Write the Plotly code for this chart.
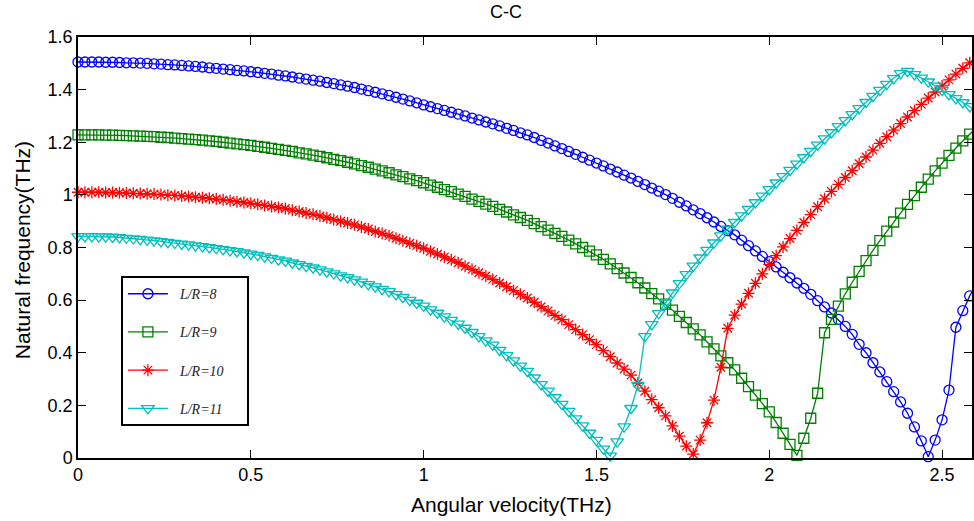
import plotly.graph_objects as go

# Angular velocity samples (THz)
omega = [
    0.00, 0.02, 0.04, 0.06, 0.08, 0.10, 0.12, 0.14, 0.16, 0.18,
    0.20, 0.22, 0.24, 0.26, 0.28, 0.30, 0.32, 0.34, 0.36, 0.38,
    0.40, 0.42, 0.44, 0.46, 0.48, 0.50, 0.52, 0.54, 0.56, 0.58,
    0.60, 0.62, 0.64, 0.66, 0.68, 0.70, 0.72, 0.74, 0.76, 0.78,
    0.80, 0.82, 0.84, 0.86, 0.88, 0.90, 0.92, 0.94, 0.96, 0.98,
    1.00, 1.02, 1.04, 1.06, 1.08, 1.10, 1.12, 1.14, 1.16, 1.18,
    1.20, 1.22, 1.24, 1.26, 1.28, 1.30, 1.32, 1.34, 1.36, 1.38,
    1.40, 1.42, 1.44, 1.46, 1.48, 1.50, 1.52, 1.54, 1.56, 1.58,
    1.60, 1.62, 1.64, 1.66, 1.68, 1.70, 1.72, 1.74, 1.76, 1.78,
    1.80, 1.82, 1.84, 1.86, 1.88, 1.90, 1.92, 1.94, 1.96, 1.98,
    2.00, 2.02, 2.04, 2.06, 2.08, 2.10, 2.12, 2.14, 2.16, 2.18,
    2.20, 2.22, 2.24, 2.26, 2.28, 2.30, 2.32, 2.34, 2.36, 2.38,
    2.40, 2.42, 2.44, 2.46, 2.48, 2.50, 2.52, 2.54, 2.56, 2.58,
    2.60,
]

# Natural frequency (THz) for each L/R
freq_lr8 = [
    1.505, 1.505, 1.505, 1.505, 1.504, 1.504, 1.503, 1.502, 1.502, 1.501,
    1.500, 1.498, 1.497, 1.495, 1.494, 1.492, 1.490, 1.488, 1.486, 1.483,
    1.481, 1.478, 1.476, 1.473, 1.471, 1.468, 1.465, 1.462, 1.459, 1.455,
    1.452, 1.448, 1.444, 1.440, 1.436, 1.432, 1.427, 1.423, 1.418, 1.413,
    1.408, 1.402, 1.396, 1.390, 1.384, 1.378, 1.371, 1.364, 1.357, 1.350,
    1.342, 1.335, 1.328, 1.321, 1.314, 1.307, 1.300, 1.292, 1.285, 1.277,
    1.270, 1.262, 1.253, 1.245, 1.236, 1.228, 1.218, 1.207, 1.197, 1.186,
    1.176, 1.165, 1.154, 1.143, 1.132, 1.121, 1.110, 1.098, 1.087, 1.075,
    1.064, 1.051, 1.039, 1.026, 1.014, 1.001, 0.987, 0.972, 0.958, 0.943,
    0.929, 0.913, 0.897, 0.880, 0.864, 0.848, 0.828, 0.807, 0.787, 0.766,
    0.746, 0.726, 0.706, 0.685, 0.665, 0.645, 0.622, 0.598, 0.574, 0.551,
    0.527, 0.500, 0.470, 0.432, 0.400, 0.362, 0.327, 0.290, 0.252, 0.213,
    0.170, 0.118, 0.065, 0.005, 0.068, 0.145, 0.258, 0.497, 0.560, 0.616,
    0.660,
]

freq_lr9 = [
    1.228, 1.228, 1.228, 1.228, 1.227, 1.227, 1.226, 1.225, 1.224, 1.223,
    1.222, 1.221, 1.219, 1.218, 1.216, 1.214, 1.212, 1.210, 1.208, 1.205,
    1.203, 1.200, 1.197, 1.194, 1.191, 1.188, 1.184, 1.181, 1.177, 1.173,
    1.169, 1.165, 1.160, 1.156, 1.151, 1.146, 1.141, 1.135, 1.130, 1.124,
    1.118, 1.111, 1.105, 1.098, 1.091, 1.084, 1.076, 1.069, 1.061, 1.054,
    1.046, 1.037, 1.029, 1.020, 1.012, 1.003, 0.994, 0.984, 0.975, 0.965,
    0.956, 0.945, 0.935, 0.924, 0.914, 0.903, 0.891, 0.879, 0.866, 0.854,
    0.842, 0.828, 0.814, 0.800, 0.786, 0.772, 0.755, 0.738, 0.720, 0.703,
    0.686, 0.666, 0.646, 0.625, 0.605, 0.585, 0.562, 0.538, 0.515, 0.491,
    0.468, 0.441, 0.415, 0.388, 0.362, 0.335, 0.303, 0.271, 0.239, 0.207,
    0.175, 0.135, 0.094, 0.052, 0.010, 0.075, 0.151, 0.246, 0.476, 0.527,
    0.577, 0.624, 0.668, 0.709, 0.750, 0.789, 0.826, 0.862, 0.897, 0.931,
    0.964, 0.997, 1.029, 1.060, 1.091, 1.121, 1.150, 1.178, 1.205, 1.231,
    1.256,
]

freq_lr10 = [
    1.010, 1.010, 1.010, 1.010, 1.009, 1.009, 1.008, 1.007, 1.006, 1.005,
    1.004, 1.003, 1.001, 0.999, 0.998, 0.996, 0.994, 0.991, 0.989, 0.987,
    0.984, 0.981, 0.978, 0.974, 0.971, 0.968, 0.964, 0.960, 0.956, 0.952,
    0.948, 0.942, 0.937, 0.931, 0.926, 0.920, 0.913, 0.906, 0.900, 0.893,
    0.886, 0.878, 0.870, 0.861, 0.853, 0.845, 0.835, 0.826, 0.816, 0.807,
    0.797, 0.786, 0.775, 0.764, 0.753, 0.742, 0.729, 0.717, 0.704, 0.692,
    0.679, 0.665, 0.651, 0.636, 0.622, 0.608, 0.592, 0.575, 0.559, 0.542,
    0.526, 0.507, 0.488, 0.469, 0.450, 0.431, 0.408, 0.385, 0.361, 0.338,
    0.315, 0.285, 0.254, 0.222, 0.191, 0.160, 0.122, 0.083, 0.045, 0.015,
    0.068, 0.134, 0.220, 0.345, 0.493, 0.543, 0.585, 0.626, 0.664, 0.700,
    0.735, 0.769, 0.802, 0.834, 0.865, 0.895, 0.925, 0.955, 0.985, 1.013,
    1.040, 1.066, 1.092, 1.118, 1.144, 1.170, 1.196, 1.221, 1.246, 1.271,
    1.296, 1.320, 1.344, 1.368, 1.391, 1.414, 1.437, 1.459, 1.481, 1.502,
    1.523,
]

freq_lr11 = [
    0.842, 0.842, 0.842, 0.841, 0.841, 0.840, 0.838, 0.836, 0.834, 0.832,
    0.829, 0.826, 0.823, 0.820, 0.817, 0.814, 0.811, 0.807, 0.804, 0.800,
    0.797, 0.793, 0.789, 0.785, 0.780, 0.776, 0.771, 0.765, 0.760, 0.754,
    0.749, 0.742, 0.736, 0.729, 0.723, 0.716, 0.708, 0.701, 0.693, 0.686,
    0.678, 0.669, 0.660, 0.651, 0.642, 0.633, 0.622, 0.611, 0.600, 0.589,
    0.578, 0.564, 0.551, 0.537, 0.524, 0.510, 0.494, 0.478, 0.462, 0.446,
    0.430, 0.410, 0.390, 0.370, 0.350, 0.330, 0.305, 0.280, 0.255, 0.230,
    0.205, 0.178, 0.150, 0.123, 0.095, 0.068, 0.035, 0.008, 0.062, 0.119,
    0.189, 0.277, 0.462, 0.508, 0.550, 0.590, 0.628, 0.664, 0.698, 0.730,
    0.761, 0.790, 0.818, 0.845, 0.871, 0.896, 0.921, 0.946, 0.971, 0.996,
    1.021, 1.046, 1.070, 1.094, 1.118, 1.142, 1.166, 1.190, 1.214, 1.237,
    1.260, 1.283, 1.306, 1.329, 1.352, 1.375, 1.398, 1.421, 1.443, 1.462,
    1.470, 1.458, 1.445, 1.430, 1.414, 1.398, 1.382, 1.367, 1.351, 1.336,
    1.320,
]

series_names = ["L/R=8", "L/R=9", "L/R=10", "L/R=11"]
series_values = [freq_lr8, freq_lr9, freq_lr10, freq_lr11]
series_colors = ["#0000ff", "#008000", "#ff0000", "#00bfbf"]
series_symbols = ["circle-open", "square-open", "asterisk-open", "triangle-down-open"]
series_sizes = [10, 10, 10, 11]

x_ticks = [0, 0.5, 1, 1.5, 2, 2.5]
x_ticktext = ["0", "0.5", "1", "1.5", "2", "2.5"]
y_ticks = [0, 0.2, 0.4, 0.6, 0.8, 1.0, 1.2, 1.4, 1.6]
y_ticktext = ["0", "0.2", "0.4", "0.6", "0.8", "1", "1.2", "1.4", "1.6"]

SANS = "Liberation Sans, Arial, sans-serif"
PAD = "&nbsp;"

fig = go.Figure()
for name, vals, col, sym, sz in zip(series_names, series_values, series_colors,
                                    series_symbols, series_sizes):
    fig.add_trace(go.Scatter(
        x=omega, y=vals, mode="lines+markers",
        name=PAD * 2 + "<i>" + name + "</i>" + PAD * 5,
        legendgroup=name,
        line=dict(color=col, width=1.3),
        marker=dict(symbol=sym, size=sz, color=col, line=dict(color=col, width=1.3)),
        cliponaxis=False,
    ))

axis_common = dict(
    showgrid=False, zeroline=False, showline=True, linecolor="black", linewidth=1.5,
    mirror="ticks", ticks="inside", ticklen=8, tickwidth=1, tickcolor="black",
    tickfont=dict(family=SANS, size=18, color="black"),
)

fig.update_layout(
    width=974, height=521,
    margin=dict(l=78, r=0, t=37, b=63),
    paper_bgcolor="white", plot_bgcolor="white",
    xaxis=dict(range=[0, 2.5866], tickvals=x_ticks, ticktext=x_ticktext, **axis_common),
    yaxis=dict(range=[0, 1.6], tickvals=y_ticks, ticktext=y_ticktext, **axis_common),
    showlegend=True,
    legend=dict(
        x=0.048, y=0.432, xanchor="left", yanchor="top",
        bgcolor="white", bordercolor="black", borderwidth=2,
        font=dict(family="Liberation Serif, Times New Roman, serif", size=14, color="#222"),
        tracegroupgap=17, traceorder="grouped", itemwidth=40,
    ),
    annotations=[
        dict(text="C-C", x=0.479, y=1.059, xref="paper", yref="paper",
             xanchor="center", yanchor="middle",
             showarrow=False, font=dict(family=SANS, size=18, color="black")),
        dict(text="Angular velocity(THz)", x=0.4844, y=-0.1116, xref="paper", yref="paper",
             xanchor="center", yanchor="middle",
             showarrow=False, font=dict(family=SANS, size=21, color="black")),
        dict(text="Natural frequency(THz)", x=-0.0625, y=0.494, xref="paper", yref="paper",
             xanchor="center", yanchor="middle",
             textangle=-90, showarrow=False, font=dict(family=SANS, size=21, color="black")),
    ],
)

fig.write_html("out.html")
